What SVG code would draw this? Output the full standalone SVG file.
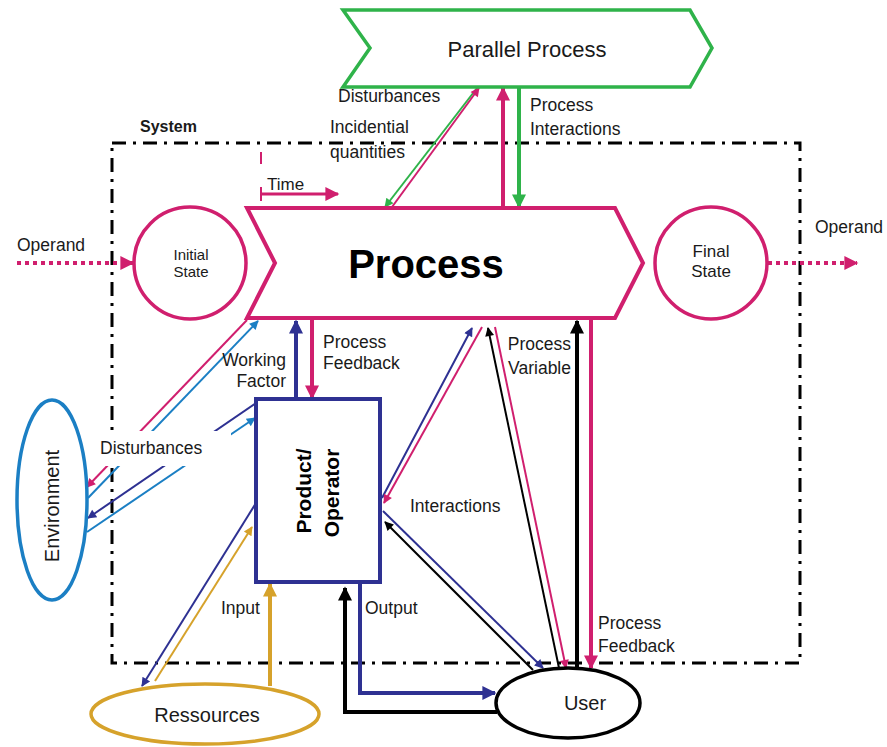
<svg xmlns="http://www.w3.org/2000/svg" width="887" height="747" viewBox="0 0 887 747">
<style>
text{font-family:"Liberation Sans",Arial,sans-serif;fill:#1a1a1a}
.lbl{font-size:17.5px}
.mag{stroke:#d01f6e;fill:none}
.grn{stroke:#2fb34a;fill:none}
.dbl{stroke:#2e3192;fill:none}
.lbl2{stroke:#1b7fc4;fill:none}
.gld{stroke:#d6a22b;fill:none}
.blk{stroke:#000;fill:none}
.thin{stroke-width:2}
.thick{stroke-width:4}
</style>
<defs>
<marker id="tMag" viewBox="0 0 10 10" refX="9" refY="5" markerUnits="userSpaceOnUse" markerWidth="12" markerHeight="9" orient="auto"><path d="M0,0L10,5L0,10z" fill="#d01f6e"/></marker>
<marker id="TMag" viewBox="0 0 10 10" refX="9" refY="5" markerUnits="userSpaceOnUse" markerWidth="17" markerHeight="14" orient="auto"><path d="M0,0L10,5L0,10z" fill="#d01f6e"/></marker>
<marker id="tGrn" viewBox="0 0 10 10" refX="9" refY="5" markerUnits="userSpaceOnUse" markerWidth="12" markerHeight="9" orient="auto"><path d="M0,0L10,5L0,10z" fill="#2fb34a"/></marker>
<marker id="TGrn" viewBox="0 0 10 10" refX="9" refY="5" markerUnits="userSpaceOnUse" markerWidth="17" markerHeight="14" orient="auto"><path d="M0,0L10,5L0,10z" fill="#2fb34a"/></marker>
<marker id="tDbl" viewBox="0 0 10 10" refX="9" refY="5" markerUnits="userSpaceOnUse" markerWidth="12" markerHeight="9" orient="auto"><path d="M0,0L10,5L0,10z" fill="#2e3192"/></marker>
<marker id="TDbl" viewBox="0 0 10 10" refX="9" refY="5" markerUnits="userSpaceOnUse" markerWidth="17" markerHeight="14" orient="auto"><path d="M0,0L10,5L0,10z" fill="#2e3192"/></marker>
<marker id="tLbl" viewBox="0 0 10 10" refX="9" refY="5" markerUnits="userSpaceOnUse" markerWidth="12" markerHeight="9" orient="auto"><path d="M0,0L10,5L0,10z" fill="#1b7fc4"/></marker>
<marker id="tGld" viewBox="0 0 10 10" refX="9" refY="5" markerUnits="userSpaceOnUse" markerWidth="12" markerHeight="9" orient="auto"><path d="M0,0L10,5L0,10z" fill="#d6a22b"/></marker>
<marker id="TGld" viewBox="0 0 10 10" refX="9" refY="5" markerUnits="userSpaceOnUse" markerWidth="17" markerHeight="14" orient="auto"><path d="M0,0L10,5L0,10z" fill="#d6a22b"/></marker>
<marker id="tBlk" viewBox="0 0 10 10" refX="9" refY="5" markerUnits="userSpaceOnUse" markerWidth="12" markerHeight="9" orient="auto"><path d="M0,0L10,5L0,10z" fill="#000"/></marker>
<marker id="TBlk" viewBox="0 0 10 10" refX="9" refY="5" markerUnits="userSpaceOnUse" markerWidth="17" markerHeight="14" orient="auto"><path d="M0,0L10,5L0,10z" fill="#000"/></marker>
</defs>
<rect width="887" height="747" fill="#fff"/>

<g id="system">
<rect x="112" y="143" width="688" height="520" fill="none" stroke="#000" stroke-width="3" stroke-dasharray="14 7 3 7"/>
<text x="140" y="132" font-size="16" font-weight="bold">System</text>
</g>

<g id="connectors">
<!-- operand -->
<line x1="17" y1="263" x2="133" y2="263" class="mag" stroke-width="4" stroke-dasharray="4 4" marker-end="url(#TMag)"/>
<line x1="768" y1="263" x2="857" y2="263" class="mag" stroke-width="4" stroke-dasharray="4 4" marker-end="url(#TMag)"/>
<!-- time -->
<line x1="261" y1="152" x2="261" y2="164" class="mag" stroke-width="2"/>
<line x1="261" y1="187" x2="261" y2="201" class="mag" stroke-width="2"/>
<line x1="261" y1="194" x2="338" y2="194" class="mag" stroke-width="3" marker-end="url(#TMag)"/>
<!-- parallel process -->
<line x1="477" y1="88" x2="385" y2="207" class="grn thin" marker-end="url(#tGrn)"/>
<line x1="392" y1="207" x2="479" y2="88" class="mag thin" marker-end="url(#tMag)"/>
<line x1="503" y1="207" x2="503" y2="88" class="mag thick" marker-end="url(#TMag)"/>
<line x1="519" y1="88" x2="519" y2="207" class="grn thick" marker-end="url(#TGrn)"/>
<!-- environment -->
<line x1="247" y1="320" x2="87" y2="487" class="mag thin" marker-end="url(#tMag)"/>
<line x1="88" y1="498" x2="258" y2="321" class="lbl2 thin" marker-end="url(#tLbl)"/>
<line x1="256" y1="403" x2="88" y2="518" class="dbl thin" marker-end="url(#tDbl)"/>
<line x1="87" y1="532" x2="255" y2="418" class="lbl2 thin" marker-end="url(#tLbl)"/>
<!-- ressources -->
<line x1="256" y1="503" x2="142" y2="686" class="dbl thin" marker-end="url(#tDbl)"/>
<line x1="155" y1="681" x2="252" y2="527" class="gld thin" marker-end="url(#tGld)"/>
<line x1="270" y1="686" x2="270" y2="584" class="gld thick" marker-end="url(#TGld)"/>
<!-- product / process -->
<line x1="296" y1="398" x2="296" y2="321" class="dbl thick" marker-end="url(#TDbl)"/>
<line x1="312" y1="320" x2="312" y2="398" class="mag thick" marker-end="url(#TMag)"/>
<line x1="382" y1="498" x2="472" y2="328" class="dbl thin" marker-end="url(#tDbl)"/>
<line x1="482" y1="327" x2="384" y2="503" class="mag thin" marker-end="url(#tMag)"/>
<!-- user / process -->
<line x1="559" y1="668" x2="488" y2="328" class="blk thin" marker-end="url(#tBlk)"/>
<line x1="495" y1="327" x2="566" y2="668" class="mag thin" marker-end="url(#tMag)"/>
<line x1="577" y1="668" x2="577" y2="321" class="blk thick" marker-end="url(#TBlk)"/>
<line x1="591" y1="320" x2="591" y2="668" class="mag thick" marker-end="url(#TMag)"/>
<!-- user / product -->
<line x1="383" y1="511" x2="543" y2="668" class="dbl thin" marker-end="url(#tDbl)"/>
<line x1="533" y1="670" x2="385" y2="522" class="blk thin" marker-end="url(#tBlk)"/>
<polyline points="360,582 360,693 495,693" class="dbl thick" marker-end="url(#TDbl)"/>
<polyline points="497,712 345,712 345,588" class="blk thick" marker-end="url(#TBlk)"/>
</g>

<g id="labels">
<rect x="95" y="431" width="136" height="35" fill="#fff"/>
<text x="100" y="454" class="lbl">Disturbances</text>
<text x="338" y="102" class="lbl">Disturbances</text>
<text x="330" y="133" class="lbl">Incidential</text>
<text x="330" y="158" class="lbl">quantities</text>
<text x="530" y="111" class="lbl">Process</text>
<text x="530" y="135" class="lbl">Interactions</text>
<text x="267" y="190" font-size="17">Time</text>
<text x="17" y="251" class="lbl">Operand</text>
<text x="815" y="233" class="lbl">Operand</text>
<text x="286" y="366" class="lbl" text-anchor="end">Working</text>
<text x="286" y="387" class="lbl" text-anchor="end">Factor</text>
<text x="323" y="348" class="lbl">Process</text>
<text x="323" y="369" class="lbl">Feedback</text>
<text x="571" y="350" class="lbl" text-anchor="end">Process</text>
<text x="571" y="374" class="lbl" text-anchor="end">Variable</text>
<text x="410" y="512" class="lbl">Interactions</text>
<text x="598" y="629" class="lbl">Process</text>
<text x="598" y="652" class="lbl">Feedback</text>
<text x="221" y="614" class="lbl">Input</text>
<text x="365" y="614" class="lbl">Output</text>
</g>

<g id="parallel-process">
<polygon points="343,10 690,10 712,48 690,87 343,87 370,48" fill="#fff" stroke="#2fb34a" stroke-width="3.5"/>
<text x="527" y="57" font-size="22" text-anchor="middle">Parallel Process</text>
</g>

<g id="process">
<polygon points="247,208 615,208 643,263 615,318 247,318 275,263" fill="#fff" stroke="#d01f6e" stroke-width="4"/>
<text x="426" y="278" font-size="40" font-weight="bold" text-anchor="middle" style="fill:#000">Process</text>
</g>

<g id="initial-state">
<circle cx="190" cy="263" r="56" fill="#fff" stroke="#d01f6e" stroke-width="3.5"/>
<text x="191" y="260" font-size="15" text-anchor="middle">Initial</text>
<text x="191" y="277" font-size="15" text-anchor="middle">State</text>
</g>

<g id="final-state">
<circle cx="711" cy="263" r="56" fill="#fff" stroke="#d01f6e" stroke-width="3.5"/>
<text x="711" y="257" font-size="17" text-anchor="middle">Final</text>
<text x="711" y="277" font-size="17" text-anchor="middle">State</text>
</g>

<g id="product-operator">
<rect x="256" y="399" width="124" height="183" fill="#fff" stroke="#2e3192" stroke-width="4"/>
<text transform="translate(311,491) rotate(-90)" font-size="21" font-weight="bold" text-anchor="middle" style="fill:#000">Product/</text>
<text transform="translate(339,493) rotate(-90)" font-size="21" font-weight="bold" text-anchor="middle" style="fill:#000">Operator</text>
</g>

<g id="environment">
<ellipse cx="52" cy="500" rx="35" ry="100" fill="#fff" stroke="#1b7fc4" stroke-width="3.5"/>
<text transform="translate(59,506) rotate(-90)" font-size="20" text-anchor="middle">Environment</text>
</g>

<g id="ressources">
<ellipse cx="205" cy="714" rx="114" ry="30" fill="#fff" stroke="#d6a22b" stroke-width="3.5"/>
<text x="207" y="722" font-size="20" text-anchor="middle">Ressources</text>
</g>

<g id="user">
<ellipse cx="568" cy="703" rx="72" ry="35" fill="#fff" stroke="#000" stroke-width="3.5"/>
<text x="585" y="710" font-size="20" text-anchor="middle">User</text>
</g>
</svg>
